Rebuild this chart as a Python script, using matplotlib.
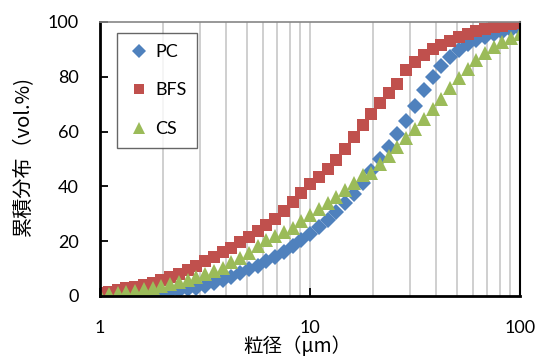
import numpy as np
import matplotlib
matplotlib.use("Agg")
import matplotlib.pyplot as plt
from matplotlib.ticker import FixedLocator, NullFormatter, FixedFormatter

# particle size grid (um), log spaced measurement channels
size_um = np.logspace(0, 2, 49)

pc = [0.0, 0.05, 0.1, 0.2, 0.3, 0.5, 0.7, 1.0, 1.4, 1.9, 2.5, 3.1, 3.8, 4.6, 5.8, 7.0,
      8.3, 9.7, 11.1, 12.6, 14.2, 15.9, 18.3, 20.5, 22.8, 25.2, 27.8, 30.6, 33.8, 37.3,
      41.2, 45.5, 50.0, 54.5, 59.0, 64.0, 69.5, 75.0, 80.0, 84.0, 87.3, 89.8, 91.8,
      93.4, 94.7, 95.7, 96.5, 97.1, 97.6]
bfs = [1.0, 1.6, 2.2, 2.8, 3.4, 4.1, 4.9, 5.8, 6.9, 8.1, 9.5, 11.0, 12.6, 14.2, 15.9,
       17.7, 19.6, 21.6, 23.6, 25.8, 28.2, 31.0, 34.2, 37.6, 40.8, 43.5, 46.5, 49.5,
       53.5, 58.0, 62.5, 66.5, 70.5, 74.0, 77.5, 82.5, 85.5, 88.0, 90.0, 91.7, 93.2,
       94.5, 95.6, 96.6, 97.4, 98.1, 98.7, 99.2, 99.6]
cs = [0.5, 0.8, 1.1, 1.5, 1.9, 2.4, 2.9, 3.5, 4.2, 5.0, 5.9, 6.9, 8.0, 9.1, 10.3, 12.3,
      13.8, 15.8, 18.2, 20.5, 22.0, 23.2, 25.0, 27.2, 29.5, 31.8, 34.0, 36.3, 38.8,
      41.3, 44.0, 45.0, 48.0, 51.2, 54.4, 57.8, 61.0, 64.6, 68.3, 72.0, 75.8, 79.5,
      83.0, 86.0, 88.6, 90.8, 92.7, 94.3, 95.5]

series_names = ["PC", "BFS", "CS"]
x_ticks = [1, 10, 100]
x_tick_labels = ["1", "10", "100"]
y_ticks = [0, 20, 40, 60, 80, 100]

plt.rcParams['font.family'] = ['Lato', 'DejaVu Sans']

fig = plt.figure(figsize=(5.38, 3.58), dpi=100)
ax = fig.add_axes([100/538, 62/358, 420/538, 274/358])

ax.plot(size_um, pc, linestyle='none', marker='D', markersize=8.4, color='#4F81BD',
        markeredgewidth=0, label=series_names[0])
ax.plot(size_um, bfs, linestyle='none', marker='s', markersize=9.0, color='#C0504D',
        markeredgewidth=0, label=series_names[1])
ax.plot(size_um, cs, linestyle='none', marker='^', markersize=10.2, color='#9BBB59',
        markeredgewidth=0, label=series_names[2])

ax.set_xscale('log')
ax.set_xlim(1, 100)
ax.set_ylim(0, 100)

ax.xaxis.set_major_locator(FixedLocator(x_ticks))
ax.xaxis.set_major_formatter(FixedFormatter(x_tick_labels))
minor = [m * d for d in (1, 10) for m in range(2, 10)]
ax.xaxis.set_minor_locator(FixedLocator(minor))
ax.xaxis.set_minor_formatter(NullFormatter())
ax.set_yticks(y_ticks)

ax.grid(True, axis='x', which='both', color='#CFCFCF', linewidth=1.4)
ax.set_axisbelow(True)

ax.tick_params(axis='x', which='major', direction='in', length=6, width=1.3,
               labelsize=13, pad=17, top=False, color='black')
ax.tick_params(axis='x', which='minor', length=0)
ax.tick_params(axis='y', which='major', direction='in', length=6, width=1.3,
               labelsize=13, pad=15.5, right=False, color='black')

for s in ('left', 'bottom'):
    ax.spines[s].set_linewidth(2.0)
    ax.spines[s].set_color('black')
ax.spines['right'].set_linewidth(1.5)
ax.spines['right'].set_color('black')
ax.spines['top'].set_linewidth(1.2)
ax.spines['top'].set_color('#868686')

leg = ax.legend(loc='upper left', bbox_to_anchor=(17/420, 1 - 11/274), fontsize=13,
                frameon=True, fancybox=False, edgecolor='#404040', borderpad=0.6,
                labelspacing=1.25, handletextpad=0.3, handlelength=1.2,
                borderaxespad=0, markerscale=0.8)
leg.get_frame().set_linewidth(1.0)

cjk = ['Noto Sans CJK JP', 'DejaVu Sans']
fig.text(24/538, 1 - 156/358, "累積分布（vol.%)", rotation=90, ha='center', va='center',
         fontsize=14.5, family=cjk)
fig.text(297/538, 1 - 346/358, "粒径（μm）", ha='center', va='center',
         fontsize=14, family=cjk)

fig.savefig('out.png', dpi=100)
